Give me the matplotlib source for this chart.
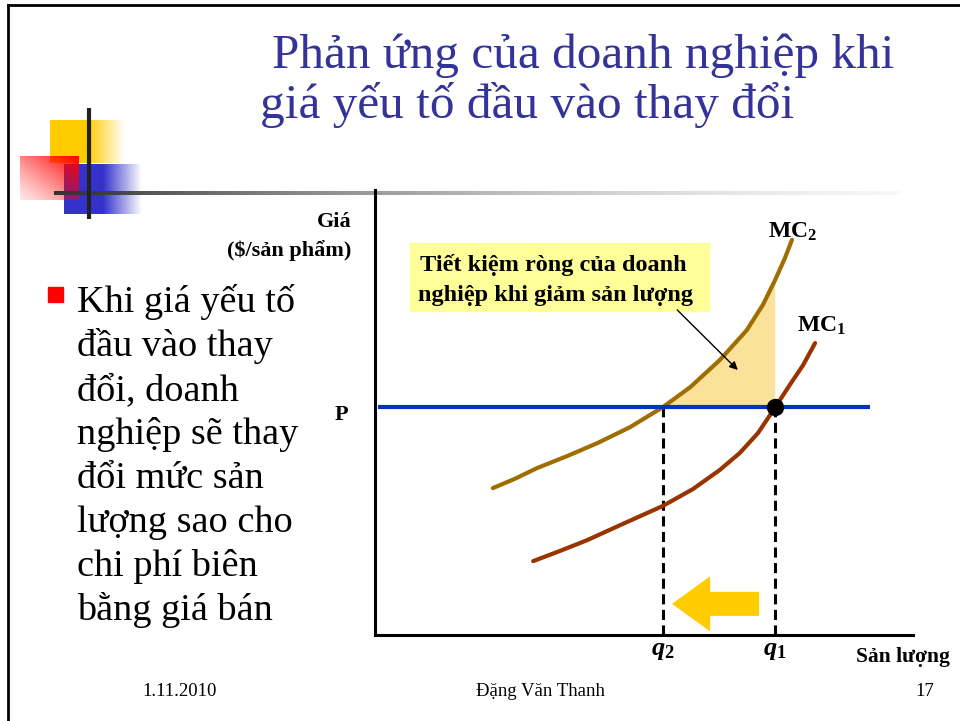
import numpy as np
import matplotlib
matplotlib.use("Agg")
import matplotlib.pyplot as plt
from matplotlib.patches import Rectangle

plt.rcParams["font.family"] = ["Liberation Serif", "DejaVu Serif"]
plt.rcParams["mathtext.fontset"] = "custom"
plt.rcParams["mathtext.rm"] = "Liberation Serif:bold"
plt.rcParams["mathtext.bf"] = "Liberation Serif:bold"
plt.rcParams["mathtext.it"] = "Liberation Serif:italic:bold"

# chart data (quantity 0-100, price 0-100)
mc2_q = [21.9, 26.0, 30.1, 35.7, 41.3, 47.4, 53.5, 58.6, 64.1, 69.1, 72.1, 74.3, 76.2, 77.5]
mc2_p = [33.0, 35.1, 37.5, 40.2, 43.1, 46.7, 51.2, 55.7, 61.8, 68.5, 74.2, 79.6, 84.7, 88.8]
mc1_q = [29.4, 34.4, 39.4, 46.5, 53.5, 59.1, 64.1, 67.8, 71.2, 74.3, 77.1, 79.6, 81.8]
mc1_p = [16.6, 18.9, 21.3, 25.2, 29.0, 32.8, 37.1, 40.9, 45.4, 51.0, 56.2, 60.7, 65.6]
price_p = 51.2
q2 = 53.5
q1 = 74.3
shift_from, shift_to, shift_level = 71.4, 55.2, 7.0

title_lines = ["Phản ứng của doanh nghiệp khi", "giá yếu tố đầu vào thay đổi"]
bullet_lines = ["Khi giá yếu tố", "đầu vào thay", "đổi, doanh", "nghiệp sẽ thay",
                "đổi mức sản", "lượng sao cho", "chi phí biên", "bằng giá bán"]
box_lines = ["Tiết kiệm ròng của doanh", "nghiệp khi giảm sản lượng"]
footer = ["1.11.2010", "Đặng Văn Thanh", "17"]

W, H = 960, 721
fig = plt.figure(figsize=(W / 100, H / 100), dpi=100)

# slide background, pixel coordinates
bg = fig.add_axes([0, 0, 1, 1])
bg.set_xlim(0, W)
bg.set_ylim(H, 0)
bg.axis("off")


def hgrad(color, x0, x1, y0, y1, solid_frac, z):
    n = 200
    a = np.ones(n)
    k = int(n * solid_frac)
    a[k:] = np.linspace(1, 0, n - k)
    img = np.zeros((1, n, 4))
    img[0, :, :3] = matplotlib.colors.to_rgb(color)
    img[0, :, 3] = a
    bg.imshow(img, extent=(x0, x1, y1, y0), aspect="auto", zorder=z, interpolation="bilinear")


hgrad("#FFCC00", 50, 125, 120, 163, 0.5, 1)
hgrad("#3333CC", 64, 142, 164, 214, 0.5, 2)

# red square: strong at top-right, fading to bottom-left
n = 100
gx, gy = np.meshgrid(np.linspace(0, 1, n), np.linspace(1, 0, n))
red = np.zeros((n, n, 4))
red[..., 0] = 1.0
red[..., 3] = np.clip(0.15 + 0.85 * (gx + gy) / 2, 0, 1) ** 1.3
bg.imshow(red, extent=(20, 79, 200, 156), aspect="auto", zorder=3, interpolation="bilinear")

# horizontal gray line fading out
m = 400
line = np.zeros((1, m, 4))
g = np.linspace(0.2, 0.85, m)
line[0, :, 0] = g
line[0, :, 1] = g
line[0, :, 2] = g
line[0, :, 3] = np.linspace(1, 0.2, m)
bg.imshow(line, extent=(54, 900, 195, 191), aspect="auto", zorder=4, interpolation="bilinear")
bg.plot([89, 89], [108, 219], color="#222222", lw=3, zorder=5, solid_capstyle="butt")

# slide border
bg.plot([8, W], [5, 5], color="black", lw=2, zorder=5)
bg.plot([8, 8], [5, H], color="black", lw=2, zorder=5)

# title
bg.text(272, 68, title_lines[0], fontsize=35.5, color="#333399", va="baseline", ha="left")
bg.text(260, 118, title_lines[1], fontsize=35.5, color="#333399", va="baseline", ha="left")

# bullet text
bg.add_patch(Rectangle((48, 287), 15, 15, color="#FF0000", zorder=5))
for i, s in enumerate(bullet_lines):
    bg.text(77, 312 + 44 * i, s, fontsize=27.5, va="baseline", ha="left")

# footer
bg.text(180, 692, footer[0], fontsize=13.5, ha="center", va="center")
bg.text(540, 692, footer[1], fontsize=13.5, ha="center", va="center")
bg.text(925, 692, footer[2], fontsize=13.5, ha="center", va="center")

# chart axes
ax = fig.add_axes([375 / W, (H - 635) / H, 538 / W, 445 / H])
ax.set_xlim(0, 100)
ax.set_ylim(0, 100)
ax.patch.set_visible(False)
for s in ["top", "right"]:
    ax.spines[s].set_visible(False)
for s in ["left", "bottom"]:
    ax.spines[s].set_linewidth(2.2)
ax.set_xticks([])
ax.set_yticks([])

# savings area between MC2 and price from q2 to q1
fq = [q for q in mc2_q if q2 <= q <= q1]
fp = [p for q, p in zip(mc2_q, mc2_p) if q2 <= q <= q1]
ax.fill_between(fq, fp, price_p, color="#FAE29B", lw=0, zorder=1)

ax.plot(mc2_q, mc2_p, color="#A06E00", lw=3, solid_capstyle="round", solid_joinstyle="round", zorder=3)
ax.plot(mc1_q, mc1_p, color="#993300", lw=3, solid_capstyle="round", solid_joinstyle="round", zorder=3)
ax.hlines(price_p, 0.5, 92, color="#0033CC", lw=3, zorder=4)
ax.vlines([q2, q1], 0, price_p, color="black", lw=2.2, linestyles=(0, (3.3, 1.8)), zorder=2)
ax.plot([q1], [price_p], "o", color="black", ms=11.5, zorder=5)

ax.arrow(shift_from, shift_level, shift_to - shift_from + 7.1, 0, width=5.4,
         head_width=12.4, head_length=7.1, length_includes_head=False,
         color="#FFCC00", lw=0, zorder=2)

ax.annotate("", xy=(67.8, 59.1), xytext=(55.8, 73.5),
            arrowprops=dict(arrowstyle="-|>", lw=1, color="black", mutation_scale=12),
            zorder=6)

# text box
bg.add_patch(Rectangle((410, 243), 299, 68, color="#FFFF99", zorder=6))
bg.text(420, 271, box_lines[0], fontsize=17.5, fontweight="bold", va="baseline", zorder=7)
bg.text(418, 301, box_lines[1], fontsize=17.5, fontweight="bold", va="baseline", zorder=7)

# labels
bg.text(351, 227, "Giá", fontsize=16, fontweight="bold", ha="right", va="baseline")
bg.text(351, 256, "($/sản phẩm)", fontsize=16, fontweight="bold", ha="right", va="baseline")
bg.text(335, 420, "P", fontsize=16, fontweight="bold", ha="left", va="baseline")
bg.text(768, 238, r"$\mathrm{MC}_{\mathrm{2}}$", fontsize=17, ha="left", va="baseline", zorder=7)
bg.text(797, 332, r"$\mathrm{MC}_{\mathrm{1}}$", fontsize=17, ha="left", va="baseline", zorder=7)
bg.text(663, 655, r"$\mathit{q}_{\mathit{2}}$", fontsize=19, ha="center", va="baseline")
bg.text(775, 655, r"$\mathit{q}_{\mathit{1}}$", fontsize=19, ha="center", va="baseline")
bg.text(856, 662, "Sản lượng", fontsize=15.5, fontweight="bold", ha="left", va="baseline")

fig.savefig("out.png", dpi=100)
